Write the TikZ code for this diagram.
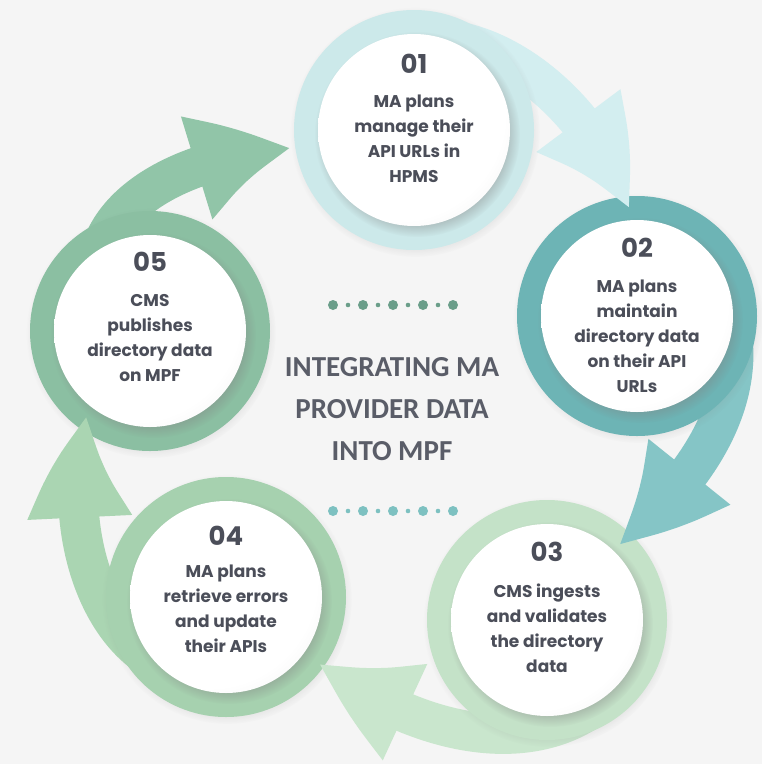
\documentclass[tikz,border=0pt]{standalone}
\usepackage{fontspec}
\setmainfont{Poppins}
\newfontfamily\titlefont{Carlito}
\usetikzlibrary{positioning,arrows.meta,bending,shadows}

\definecolor{paper}{HTML}{F5F5F5}
\definecolor{ink}{HTML}{4B4E59}
\definecolor{titleink}{HTML}{5A5D68}
\definecolor{ringA}{HTML}{CCE9EA}
\definecolor{flowA}{HTML}{D3EEF0}
\definecolor{ringB}{HTML}{6DB4B5}
\definecolor{flowB}{HTML}{85C5C6}
\definecolor{ringC}{HTML}{C4E2C8}
\definecolor{flowC}{HTML}{C9E6CD}
\definecolor{ringD}{HTML}{A6D1AF}
\definecolor{flowD}{HTML}{AAD5B2}
\definecolor{ringE}{HTML}{8BBFA2}
\definecolor{flowE}{HTML}{91C5A8}
\definecolor{dotsTop}{HTML}{6B9E8A}
\definecolor{dotsBot}{HTML}{7DC1C1}
\definecolor{discedge}{HTML}{DCDCDC}

\pgfdeclareradialshading{discshade}{\pgfpoint{-10bp}{10bp}}{color(0bp)=(white); color(28bp)=(white); color(50bp)=(discedge)}

% drawing order: each flow starts under its own ring and ends on the next one
\pgfdeclarelayer{bg}
\pgfdeclarelayer{a5}
\pgfdeclarelayer{r5}
\pgfdeclarelayer{a4}
\pgfdeclarelayer{r4}
\pgfdeclarelayer{a3}
\pgfdeclarelayer{r3}
\pgfdeclarelayer{a2}
\pgfdeclarelayer{r2}
\pgfdeclarelayer{a1}
\pgfsetlayers{bg,a5,r5,a4,r4,a3,r3,a2,r2,a1,main}

\begin{document}
\begin{tikzpicture}[x=1pt,y=1pt,
   ring/.style={circle,minimum size=240pt,inner sep=0pt,fill=#1,
     circular drop shadow={shadow xshift=1pt,shadow yshift=-2pt,shadow scale=1.04,opacity=.25}},
   disc/.style={circle,minimum size=192pt,inner sep=0pt,shade,shading=discshade,
     circular drop shadow={shadow xshift=3pt,shadow yshift=-4pt,shadow scale=1.07,opacity=.45}},
   num/.style={font=\fontsize{26}{26}\selectfont\bfseries,text=ink,inner sep=0pt},
   txt/.style={font=\fontsize{17}{25}\selectfont\bfseries,text=ink,align=center,inner sep=0pt},
   flow/.style={line width=40pt,draw=#1,-{Triangle[length=104pt,width=96pt,bend]}}]
\useasboundingbox (0,0) rectangle (762,-764);
\begin{pgfonlayer}{bg}
  \fill[paper] (0,0) rectangle (762,-764);
\end{pgfonlayer}

% steps
\node[ring=ringA] (s1) at (414,-130) {};
\node[disc] (d1) at (s1) {};
\node[num] (n1) at ([yshift=66pt]d1.center) {01};
\node[txt,below=21pt of n1] (t1) {MA plans\\manage their\\API URLs in\\HPMS};

\begin{pgfonlayer}{r2}
\node[ring=ringB] (s2) at (637,-316) {};
\node[disc] (d2) at (s2) {};
\node[num] (n2) at ([yshift=68pt]d2.center) {02};
\node[txt,below=22pt of n2] (t2) {MA plans\\maintain\\directory data\\on their API\\URLs};
\end{pgfonlayer}

\begin{pgfonlayer}{r3}
\node[ring=ringC] (s3) at (547,-620) {};
\node[disc] (d3) at (s3) {};
\node[num] (n3) at ([yshift=68pt]d3.center) {03};
\node[txt,below=22pt of n3] (t3) {CMS ingests\\and validates\\the directory\\data};
\end{pgfonlayer}

\begin{pgfonlayer}{r4}
\node[ring=ringD] (s4) at (226,-597) {};
\node[disc] (d4) at (s4) {};
\node[num] (n4) at ([yshift=61pt]d4.center) {04};
\node[txt,below=19pt of n4] (t4) {MA plans\\retrieve errors\\and update\\their APIs};
\end{pgfonlayer}

\begin{pgfonlayer}{r5}
\node[ring=ringE] (s5) at (150,-331) {};
\node[disc] (d5) at (s5) {};
\node[num] (n5) at ([yshift=69pt]d5.center) {05};
\node[txt,below=22pt of n5] (t5) {CMS\\publishes\\directory data\\on MPF};
\end{pgfonlayer}

% arrow tips sit on the next ring
\path (s2.center) ++(95:106) coordinate (h1);
\path (s3.center) ++(47:103) coordinate (h2);
\path (s4.center) ++(-35:113) coordinate (h3);
\path (s5.center) ++(234:104) coordinate (h4);
\path (s1.center) ++(189:123) coordinate (h5);

% flows
\begin{pgfonlayer}{a1}
\draw[flow=flowA] (d1.70) .. controls +(74,-9) and +(-28,90) .. (h1);
\end{pgfonlayer}
\begin{pgfonlayer}{a2}
\draw[flow=flowB] (d2.-10) .. controls +(12,-78) and +(72,55) .. (h2);
\end{pgfonlayer}
\begin{pgfonlayer}{a3}
\draw[flow=flowC] (d3.-50) .. controls +(-68,-67) and +(101,-78) .. (h3);
\end{pgfonlayer}
\begin{pgfonlayer}{a4}
\draw[flow=flowD] (d4.220) .. controls +(-63,38) and +(-28,-95) .. (h4);
\end{pgfonlayer}
\begin{pgfonlayer}{a5}
\draw[flow=flowE] (d5.120) .. controls +(18,54) and +(-98,-5) .. (h5);
\end{pgfonlayer}

% title
\node[font=\titlefont\bfseries\fontsize{29}{42}\selectfont,text=titleink,align=center] (title) at (392,-409) {INTEGRATING MA\\PROVIDER DATA\\INTO MPF};
\foreach \i in {0,...,4} {
  \fill[dotsTop] (333+30*\i,-305) circle (5pt);
  \fill[dotsBot] (333+30*\i,-511) circle (5pt);
}
\foreach \i in {0,...,3} {
  \fill[dotsTop] (348+30*\i,-305) circle (2.3pt);
  \fill[dotsBot] (348+30*\i,-511) circle (2.3pt);
}
\end{tikzpicture}
\end{document}
